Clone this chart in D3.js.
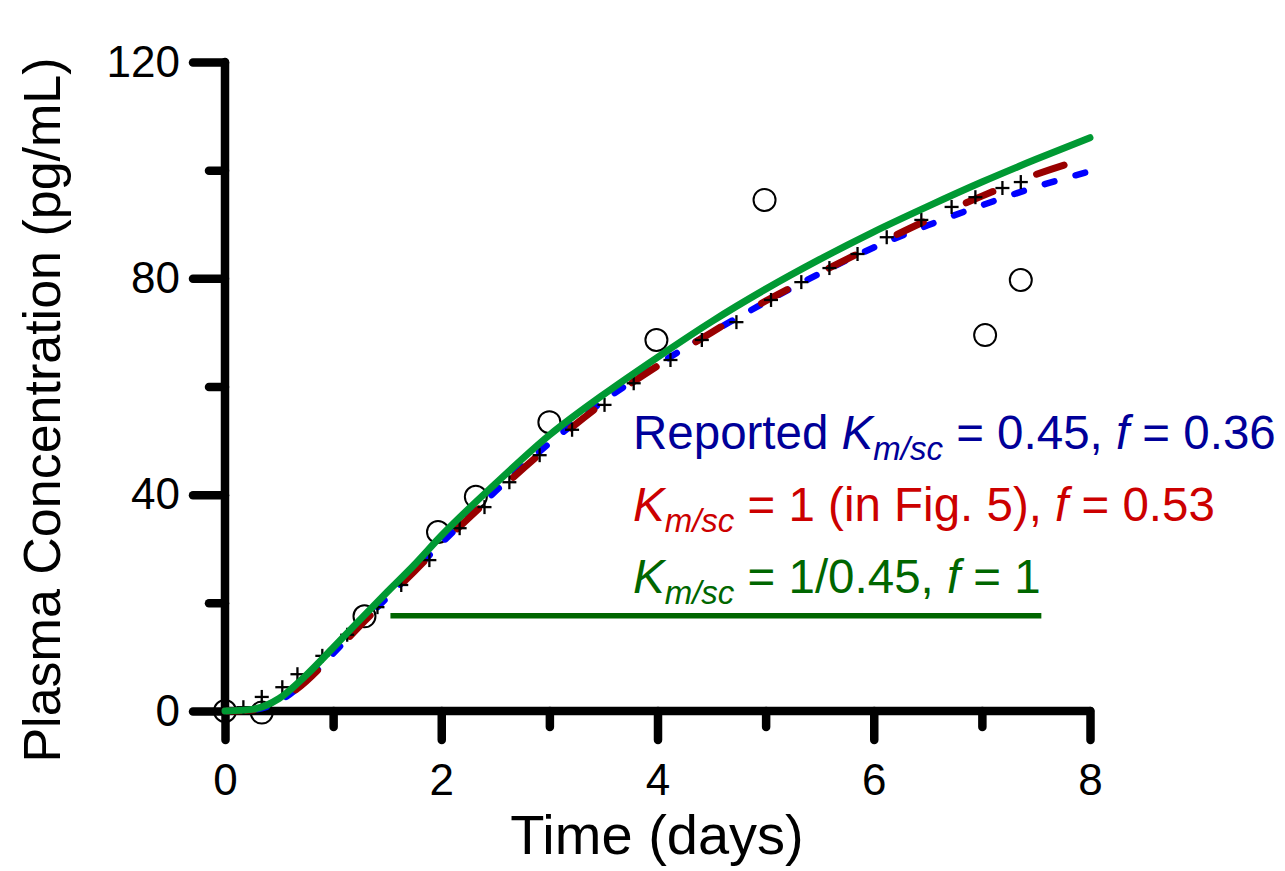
<html lang="en">
<head>
  <meta charset="utf-8"/>
  <title>Plasma Concentration</title>
  <script src="https://d3js.org/d3.v7.min.js"></script>
  <style>
  * { font-family: "Liberation Sans", Arial, sans-serif; }
  body { margin: 0; background: white; }
  .axis-line { stroke: black; stroke-width: 8.5px; stroke-linecap: round; fill: none; }
  .tick line { stroke: black; stroke-width: 8.5px; stroke-linecap: round; }
  .tick text { font-size: 44px; fill: black; }
  .title { font-size: 52px; fill: black; }
  .legend { font-size: 47.5px; }
  </style>
</head>
<body>
  <svg id="chart" width="1285" height="871"></svg>
  <script>
    // time (days) grid for the three model curves
    const tGrid = [0, 0.25, 0.5, 0.75, 1, 1.25, 1.5, 1.75, 2, 2.5, 3, 3.5, 4, 4.5, 5, 5.5, 6, 6.5, 7, 7.5, 8];
    const reportedFit = [0, 0.2, 1.8, 5.6, 10.6, 15.9, 21.0, 26.0, 31.0, 40.6, 49.5, 57.3, 64.0, 70.0, 75.6, 80.9, 85.7, 89.8, 93.5, 96.9, 99.8];
    const fig5Fit = [0, 0.2, 1.8, 5.5, 10.5, 15.8, 20.8, 25.8, 30.8, 40.2, 49.0, 57.0, 63.8, 70.0, 75.8, 81.0, 86.0, 90.8, 95.2, 99.2, 102.4];
    const fullFit = [0, 0.3, 2.3, 6.6, 11.7, 16.9, 22.0, 27.0, 32.4, 42.0, 51.0, 58.5, 65.4, 72.0, 78.0, 83.5, 88.6, 93.3, 97.8, 102.0, 106.0];

    // observed data (open circles)
    const obsT = [0, 0.34, 1.29, 1.97, 2.32, 3.0, 3.99, 4.99, 7.03, 7.36];
    const obsC = [0, -0.3, 17.5, 33.1, 39.6, 53.4, 68.6, 94.5, 69.5, 79.7];

    const simT = [0, 0.17, 0.34, 0.53, 0.67, 0.9, 1.13, 1.41, 1.63, 1.89, 2.17, 2.4, 2.63, 2.91, 3.21, 3.51, 3.78, 4.12, 4.41, 4.73, 5.05, 5.33, 5.59, 5.85, 6.12, 6.44, 6.72, 6.94, 7.19, 7.36];
    const simC = [0, 0.7, 2.6, 4.4, 6.8, 10.2, 14.1, 19.2, 23.3, 27.9, 33.8, 37.7, 42.3, 47.3, 52.0, 56.6, 60.6, 64.9, 68.6, 71.9, 76.0, 79.3, 81.9, 84.5, 87.6, 90.8, 93.2, 95.0, 96.7, 97.8];

    const xMajor = [0, 2, 4, 6, 8];
    const xMinor = [1, 3, 5, 7];
    const yMajor = [0, 40, 80, 120];
    const yMinor = [20, 60, 100];

    const svg = d3.select("#chart");
    const x = d3.scaleLinear().domain([0, 8]).range([225, 1090]);
    const y = d3.scaleLinear().domain([0, 120]).range([711, 62]);

    // axes: minor ticks, major ticks, then the axis lines
    const gx = svg.append("g").attr("transform", "translate(0," + y(0) + ")");
    gx.append("g").call(d3.axisBottom(x).tickValues(xMinor).tickSize(16).tickSizeOuter(0).tickFormat(""));
    gx.append("g").call(d3.axisBottom(x).tickValues(xMajor).tickSize(29).tickSizeOuter(0).tickPadding(24).tickFormat(d3.format("d")));
    const gy = svg.append("g").attr("transform", "translate(" + x(0) + ",0)");
    gy.append("g").call(d3.axisLeft(y).tickValues(yMinor).tickSize(16).tickSizeOuter(0).tickFormat(""));
    gy.append("g").call(d3.axisLeft(y).tickValues(yMajor).tickSize(32).tickSizeOuter(0).tickPadding(13).tickFormat(d3.format("d")));
    svg.selectAll(".domain").remove();
    svg.selectAll(".tick text").attr("font-family", null).attr("font-size", null);

    svg.append("line").attr("class", "axis-line")
      .attr("x1", x(0)).attr("x2", x(8)).attr("y1", y(0)).attr("y2", y(0));
    svg.append("line").attr("class", "axis-line")
      .attr("x1", x(0)).attr("x2", x(0)).attr("y1", y(0)).attr("y2", y(120));

    svg.append("text").attr("class", "title").style("font-size", "56px")
      .attr("x", 657).attr("y", 854).attr("text-anchor", "middle")
      .text("Time (days)");
    svg.append("text").attr("class", "title")
      .attr("transform", "translate(60," + 410 + ") rotate(-90)").attr("text-anchor", "middle")
      .text("Plasma Concentration (pg/mL)");

    // observed circles
    svg.append("g").selectAll("circle").data(d3.range(obsT.length)).join("circle")
      .attr("cx", i => x(obsT[i])).attr("cy", i => y(obsC[i])).attr("r", 11)
      .attr("fill", "none").attr("stroke", "black").attr("stroke-width", 2);

    const line = d3.line().x(d => x(d[0])).y(d => y(d[1])).curve(d3.curveMonotoneX);
    const pairs = vals => tGrid.map((t, i) => [t, vals[i]]);

    svg.append("path").datum(pairs(reportedFit)).attr("d", line)
      .attr("fill", "none").attr("stroke", "#0000ff").attr("stroke-width", 6.5)
      .attr("stroke-linecap", "round").attr("stroke-dasharray", "10,22");
    svg.append("path").datum(pairs(fig5Fit)).attr("d", line)
      .attr("fill", "none").attr("stroke", "#990000").attr("stroke-width", 7)
      .attr("stroke-linecap", "round").attr("stroke-dasharray", "29,47");

    // plus markers
    const plus = svg.append("g").attr("stroke", "black").attr("stroke-width", 2.3);
    simT.forEach((t, i) => {
      const px = x(t), py = y(simC[i]);
      plus.append("line").attr("x1", px - 7).attr("x2", px + 7).attr("y1", py).attr("y2", py);
      plus.append("line").attr("x1", px).attr("x2", px).attr("y1", py - 7).attr("y2", py + 7);
    });

    svg.append("path").datum(pairs(fullFit)).attr("d", line)
      .attr("fill", "none").attr("stroke", "#009933").attr("stroke-width", 7)
      .attr("stroke-linecap", "round");

    // legend text
    function legendLine(yPos, color, parts) {
      const t = svg.append("text").attr("class", "legend").attr("x", 633).attr("y", yPos).attr("fill", color);
      parts.forEach(p => {
        const s = t.append("tspan").text(p.s);
        if (p.it) s.attr("font-style", "italic");
        if (p.sub) s.attr("font-size", "33px").attr("dy", 11);
        if (p.up) s.attr("dy", -11);
      });
    }
    legendLine(449, "#000099", [
      {s: "Reported "}, {s: "K", it: 1}, {s: "m/sc", it: 1, sub: 1},
      {s: " = 0.45, ", up: 1}, {s: "f", it: 1}, {s: " = 0.36"}
    ]);
    legendLine(521, "#cc0000", [
      {s: "K", it: 1}, {s: "m/sc", it: 1, sub: 1},
      {s: " = 1 (in Fig. 5), ", up: 1}, {s: "f", it: 1}, {s: " = 0.53"}
    ]);
    legendLine(593, "#006600", [
      {s: "K", it: 1}, {s: "m/sc", it: 1, sub: 1},
      {s: " = 1/0.45, ", up: 1}, {s: "f", it: 1}, {s: " = 1"}
    ]);
    svg.append("line").attr("x1", x(1.53)).attr("x2", x(7.55)).attr("y1", y(17.6)).attr("y2", y(17.6))
      .attr("stroke", "#006600").attr("stroke-width", 5.5);
  </script>
</body>
</html>
